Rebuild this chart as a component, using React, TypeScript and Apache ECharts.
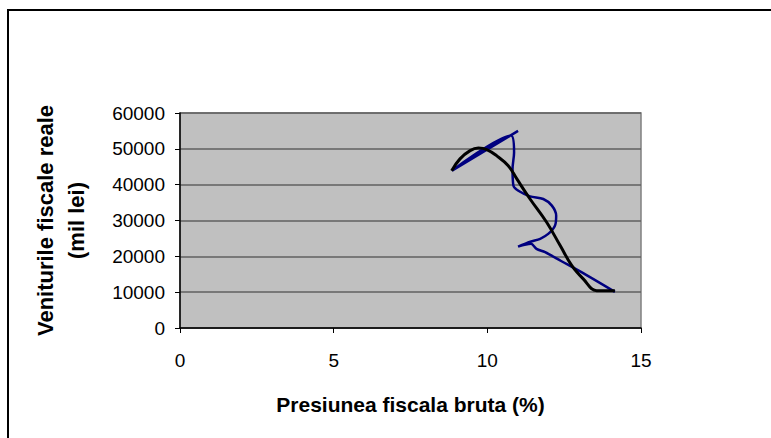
import React, { useEffect, useRef } from "react";
import * as echarts from "echarts";

const xTicks = [0, 5, 10, 15];
const yTicks = [0, 10000, 20000, 30000, 40000, 50000, 60000];

// Observed series (blue)
const blueX = [14.15, 13.2, 12.4, 11.88, 11.6, 11.42, 11.0, 11.4, 11.72, 11.98, 12.2, 12.24, 12.1, 11.82, 11.39, 11.01, 10.85, 10.82, 10.87, 10.77, 8.85, 11.0];
const blueY = [10100, 14900, 18700, 21150, 22100, 23500, 22700, 24100, 24900, 26250, 28550, 31350, 34150, 36000, 36750, 38300, 39700, 44400, 49000, 53700, 43900, 55000];

// Fitted curve (black)
const blackX = [8.84, 9.11, 9.44, 9.71, 9.98, 10.3, 10.68, 10.96, 11.39, 11.93, 12.37, 12.75, 13.12, 13.56, 14.15];
const blackY = [43900, 47200, 49500, 50200, 49800, 48100, 45300, 41600, 36000, 29500, 23000, 17400, 13700, 10400, 10400];

const xTitle = "Presiunea fiscala bruta (%)";
const yTitle = "Veniturile fiscale reale\n(mil lei)";

const FONT = "Arial, 'Liberation Sans', sans-serif";

export default function App() {
  const ref = useRef<HTMLDivElement>(null);
  useEffect(() => {
    document.body.style.margin = "0";
    const chart = echarts.init(ref.current!, null, { renderer: "svg" });
    const blueData = blueX.map((x, i) => [x, blueY[i]]);
    const blackData = blackX.map((x, i) => [x, blackY[i]]);
    chart.setOption({
      animation: false,
      backgroundColor: "#ffffff",
      grid: {
        left: 180,
        right: 130,
        top: 113,
        bottom: 110,
        show: true,
        backgroundColor: "#C0C0C0",
        borderColor: "#808080",
        borderWidth: 1.5,
        outerBoundsMode: "none",
        containLabel: false,
      },
      graphic: [
        {
          type: "rect",
          shape: { x: 8, y: 10, width: 820, height: 500 },
          style: { fill: "none", stroke: "#000", lineWidth: 2 },
          silent: true,
        },
      ],
      xAxis: {
        type: "value",
        min: xTicks[0],
        max: xTicks[xTicks.length - 1],
        interval: 5,
        name: xTitle,
        nameLocation: "middle",
        nameGap: 66,
        nameTextStyle: { fontFamily: FONT, fontSize: 21, fontWeight: "bold", color: "#000" },
        axisLine: { onZero: false, lineStyle: { color: "#000", width: 1.5 } },
        axisTick: { show: true, length: 5, lineStyle: { color: "#000" } },
        axisLabel: { fontFamily: FONT, fontSize: 19, color: "#000", margin: 23, formatter: (v: number) => String(v) },
        splitLine: { show: false },
      },
      yAxis: {
        type: "value",
        min: yTicks[0],
        max: yTicks[yTicks.length - 1],
        interval: 10000,
        name: yTitle,
        nameLocation: "middle",
        nameGap: 88,
        nameTextStyle: {
          fontFamily: FONT,
          fontSize: 22,
          fontWeight: "bold",
          color: "#000",
          lineHeight: 31,
          align: "center",
        },
        axisLine: { show: true, lineStyle: { color: "#000", width: 1.5 } },
        axisTick: { show: true, length: 5, lineStyle: { color: "#000" } },
        axisLabel: { fontFamily: FONT, fontSize: 19, color: "#000", margin: 15, formatter: (v: number) => String(v) },
        splitLine: { show: true, lineStyle: { color: "#606060", width: 1.5 } },
      },
      series: [
        {
          type: "line",
          data: blueData,
          smooth: 0.3,
          showSymbol: false,
          lineStyle: { color: "#000080", width: 2.5 },
        },
        {
          type: "line",
          data: blackData,
          smooth: 0.4,
          showSymbol: false,
          lineStyle: { color: "#000000", width: 3 },
        },
      ],
    });
    return () => chart.dispose();
  }, []);
  return (
    <div
      ref={ref}
      style={{ position: "fixed", left: 0, top: 0, width: 771, height: 438 }}
    />
  );
}
